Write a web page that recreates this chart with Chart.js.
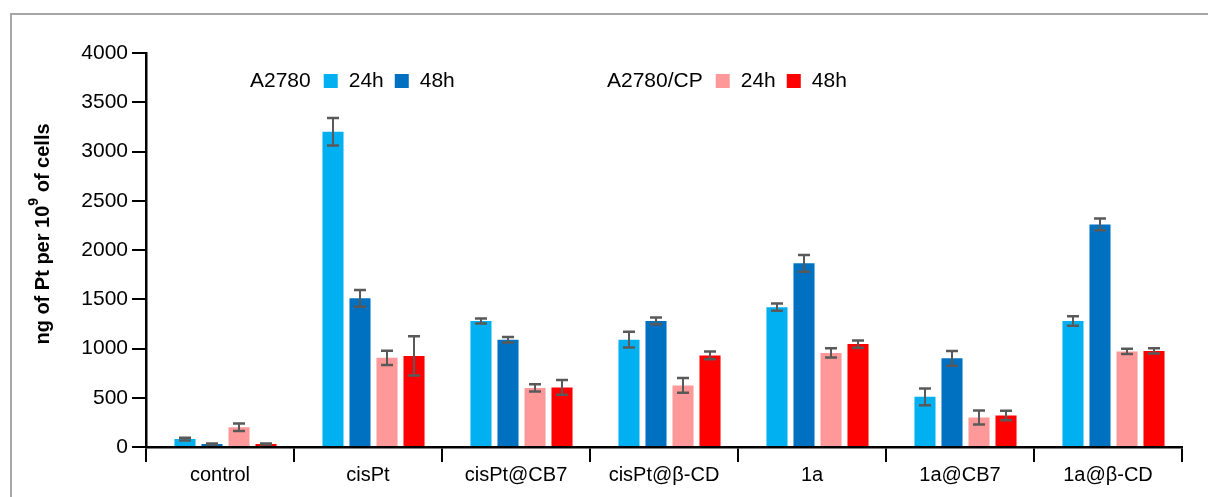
<!DOCTYPE html>
<html>
<head>
<meta charset="utf-8">
<script src="https://cdn.jsdelivr.net/npm/chart.js@4"></script>
<style>
  body { margin: 0; background: #fff; overflow: hidden; }
  #wrap { position: relative; width: 1208px; height: 497px; }
  #frame { position: absolute; left: 10px; top: 13px; width: 1400px; height: 700px;
           border-top: 2px solid #a6a6a6; border-left: 2px solid #a6a6a6; }
  canvas { position: absolute; left: 0; top: 0; }
</style>
</head>
<body>
<div id="wrap">
  <div id="frame"></div>
  <canvas id="chart-0" width="1208" height="497"></canvas>
</div>
<script>
  var categories = ['control', 'cisPt', 'cisPt@CB7', 'cisPt@\u03B2-CD', '1a', '1a@CB7', '1a@\u03B2-CD'];
  var cellLines = ['A2780', 'A2780/CP'];
  var times = ['24h', '48h'];

  // mean values, ng Pt per 10^9 cells
  var a2780_24 = [80, 3200, 1280, 1090, 1420, 510, 1280];
  var a2780_48 = [30, 1510, 1090, 1280, 1865, 900, 2260];
  var cp_24 = [200, 905, 600, 625, 955, 300, 970];
  var cp_48 = [30, 925, 605, 930, 1045, 320, 975];

  // error bars (+/-)
  var a2780_24_err = [15, 140, 25, 80, 37, 85, 48];
  var a2780_48_err = [5, 85, 28, 35, 85, 75, 60];
  var cp_24_err = [38, 72, 37, 75, 47, 71, 27];
  var cp_48_err = [5, 200, 75, 40, 37, 48, 27];

  var yTicks = [0, 500, 1000, 1500, 2000, 2500, 3000, 3500, 4000];

  var colors = ['#00B0F0', '#0070C0', '#FF9999', '#FF0000'];
  var FONT = 'Liberation Sans, Arial, sans-serif';

  // bars sit a little right of the category centre in the original
  var BAR_SHIFT = 5.5;

  var barsAndErrors = {
    id: 'barsAndErrors',
    beforeDatasetsDraw: function(chart) {
      chart.ctx.save();
      chart.ctx.translate(BAR_SHIFT, 0);
    },
    afterDatasetsDraw: function(chart) {
      var ctx = chart.ctx;
      var y = chart.scales.y;
      ctx.strokeStyle = '#595959';
      chart.data.datasets.forEach(function(ds, i) {
        var meta = chart.getDatasetMeta(i);
        meta.data.forEach(function(bar, j) {
          var v = ds.data[j], e = ds.errors[j];
          var top = y.getPixelForValue(v + e);
          var bot = y.getPixelForValue(v - e);
          ctx.lineWidth = 2;
          ctx.beginPath();
          ctx.moveTo(bar.x, top);
          ctx.lineTo(bar.x, bot);
          ctx.stroke();
          ctx.lineWidth = 2.5;
          ctx.beginPath();
          ctx.moveTo(bar.x - 6, top);
          ctx.lineTo(bar.x + 6, top);
          ctx.moveTo(bar.x - 6, bot);
          ctx.lineTo(bar.x + 6, bot);
          ctx.stroke();
        });
      });
      ctx.restore();
    }
  };

  var legendAndTitle = {
    id: 'legendAndTitle',
    afterDraw: function(chart) {
      var ctx = chart.ctx;
      ctx.save();
      // legend
      ctx.font = '21px ' + FONT;
      ctx.textBaseline = 'middle';
      var starts = [250, 607];
      var ly = 81;
      cellLines.forEach(function(name, g) {
        var x = starts[g];
        ctx.fillStyle = '#000';
        ctx.fillText(name, x, ly);
        x += ctx.measureText(name).width + 13;
        times.forEach(function(t, k) {
          var ds = chart.data.datasets[g * 2 + k];
          ctx.fillStyle = ds.backgroundColor;
          ctx.fillRect(x, ly - 7, 14, 14);
          x += 14 + 11;
          ctx.fillStyle = '#000';
          ctx.fillText(t, x, ly);
          x += ctx.measureText(t).width + 11;
        });
      });
      // y axis title with superscript
      ctx.translate(42, 234);
      ctx.rotate(-Math.PI / 2);
      var p1 = 'ng of Pt per 10', p2 = '9', p3 = ' of cells';
      ctx.font = 'bold 20px ' + FONT;
      var w1 = ctx.measureText(p1).width, w3 = ctx.measureText(p3).width;
      ctx.font = 'bold 14px ' + FONT;
      var w2 = ctx.measureText(p2).width;
      var x0 = -(w1 + w2 + w3) / 2;
      ctx.textBaseline = 'alphabetic';
      ctx.fillStyle = '#000';
      ctx.font = 'bold 20px ' + FONT;
      ctx.fillText(p1, x0, 7);
      ctx.font = 'bold 14px ' + FONT;
      ctx.fillText(p2, x0 + w1, -4);
      ctx.font = 'bold 20px ' + FONT;
      ctx.fillText(p3, x0 + w1 + w2, 7);
      ctx.restore();
    }
  };

  var data = {
    labels: categories,
    datasets: [{
      label: 'A2780 24h', data: a2780_24, errors: a2780_24_err, backgroundColor: colors[0]
    }, {
      label: 'A2780 48h', data: a2780_48, errors: a2780_48_err, backgroundColor: colors[1]
    }, {
      label: 'A2780/CP 24h', data: cp_24, errors: cp_24_err, backgroundColor: colors[2]
    }, {
      label: 'A2780/CP 48h', data: cp_48, errors: cp_48_err, backgroundColor: colors[3]
    }]
  };

  var options = {
    responsive: false,
    animation: false,
    devicePixelRatio: 1,
    categoryPercentage: 0.73,
    barPercentage: 0.78,
    layout: { padding: { left: 0, top: 53, right: 26, bottom: 0 } },
    plugins: { legend: { display: false }, tooltip: { enabled: false } },
    scales: {
      x: {
        offset: true,
        grid: { offset: true, drawOnChartArea: false, tickLength: 15, color: '#000', lineWidth: 2 },
        border: { color: '#000', width: 2.5 },
        ticks: { color: '#000', font: { family: FONT, size: 20 }, padding: 1, maxRotation: 0 },
        afterFit: function(s) { s.height = 50; }
      },
      y: {
        min: 0,
        max: 4000,
        afterBuildTicks: function(s) { s.ticks = yTicks.map(function(v) { return { value: v }; }); },
        grid: { drawOnChartArea: false, tickLength: 14, color: '#000', lineWidth: 2 },
        border: { color: '#000', width: 2.5 },
        ticks: {
          color: '#000', font: { family: FONT, size: 21 }, padding: 4,
          callback: function(v) { return String(v); }
        },
        afterFit: function(s) { s.width = 146; }
      }
    }
  };

  var chart = new Chart('chart-0', {
    type: 'bar',
    data: data,
    options: options,
    plugins: [barsAndErrors, legendAndTitle]
  });
</script>
</body>
</html>
